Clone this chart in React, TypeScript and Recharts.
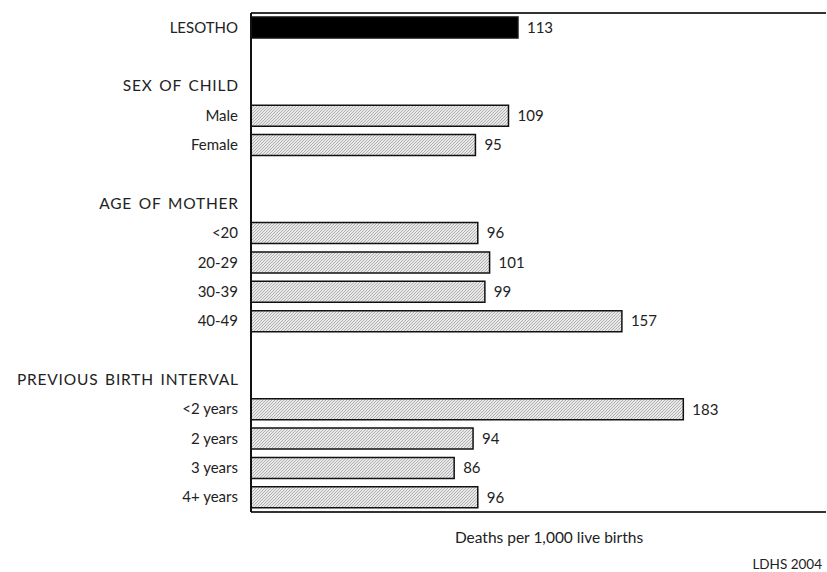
import React from "react";
import { BarChart, Bar, XAxis, YAxis, Cell, LabelList } from "recharts";

const categories = [
  "LESOTHO",
  "",
  "SEX OF CHILD",
  "Male",
  "Female",
  "",
  "AGE OF MOTHER",
  "<20",
  "20-29",
  "30-39",
  "40-49",
  "",
  "PREVIOUS BIRTH INTERVAL",
  "<2 years",
  "2 years",
  "3 years",
  "4+ years",
];
const values: (number | null)[] = [113, null, null, 109, 95, null, null, 96, 101, 99, 157, null, null, 183, 94, 86, 96];
const totalRow = "LESOTHO";
const headings = ["SEX OF CHILD", "AGE OF MOTHER", "PREVIOUS BIRTH INTERVAL"];

const FONT = "Lato, 'Open Sans', sans-serif";

if (typeof document !== "undefined") document.body.style.margin = "0";

const data = categories.map((c, i) => ({ id: i, label: c, value: values[i] }));

function CatTick(props: any) {
  const { y, payload } = props;
  const text = categories[payload.value] ?? "";
  const isHead = headings.includes(text);
  return (
    <text
      x={isHead ? 238.8 : 238}
      y={y}
      dy={5}
      textAnchor="end"
      fill="#222"
      fontSize={isHead ? 15.5 : 15}
      fontFamily={FONT}
      style={isHead ? { letterSpacing: 0.8, wordSpacing: 2 } : undefined}
    >
      {text}
    </text>
  );
}

export default function App() {
  return (
    <div style={{ position: "relative", width: 827, height: 572, background: "#fff", fontFamily: FONT }}>
      <BarChart
        width={827}
        height={572}
        data={data}
        layout="vertical"
        barCategoryGap="14%"
        margin={{ top: 12, right: 1, bottom: 30, left: 0 }}
      >
        <defs>
          <pattern id="hatch" patternUnits="userSpaceOnUse" width="3" height="3">
            <rect width="3" height="3" fill="#e8e8e8" />
            <path d="M-1,1 l2,-2 M0,3 l3,-3 M2,4 l2,-2" stroke="#a4a4a4" strokeWidth="0.8" />
          </pattern>
        </defs>
        <XAxis type="number" domain={[0, 243.4]} tick={false} tickLine={false} height={30} axisLine={{ stroke: "#333", strokeWidth: 2 }} />
        <XAxis xAxisId="top" orientation="top" type="number" domain={[0, 243.4]} tick={false} tickLine={false} height={1} axisLine={{ stroke: "#333", strokeWidth: 2 }} />
        <YAxis
          type="category"
          dataKey="id"
          width={251}
          tickLine={false}
          axisLine={{ stroke: "#111", strokeWidth: 2 }}
          tick={<CatTick />}
          interval={0}
        />
        <Bar dataKey="value" isAnimationActive={false} stroke="#111" strokeWidth={1.5}>
          {data.map((d) => (
            <Cell key={d.id} fill={d.label === totalRow ? "#000" : "url(#hatch)"} />
          ))}
          <LabelList dataKey="value" position="right" offset={9} fill="#222" fontSize={15} fontFamily={FONT} />
        </Bar>
      </BarChart>
      <div style={{ position: "absolute", left: 429, top: 528, width: 240, textAlign: "center", fontSize: 15.5, lineHeight: "18px", color: "#222" }}>
        Deaths per 1,000 live births
      </div>
      <div style={{ position: "absolute", right: 5, top: 557, fontSize: 13.5, lineHeight: "15px", color: "#222" }}>LDHS 2004</div>
    </div>
  );
}
